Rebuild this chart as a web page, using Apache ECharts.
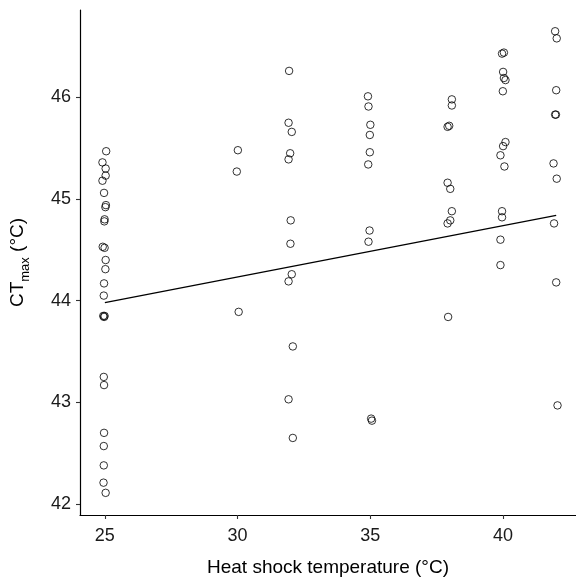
<!DOCTYPE html>
<html>
<head>
<meta charset="utf-8">
<script src="https://cdn.jsdelivr.net/npm/echarts@6/dist/echarts.min.js"></script>
<style>
html,body{margin:0;padding:0;background:#fff;}
#chart{width:576px;height:582px;}
</style>
</head>
<body>
<div id="chart"></div>
<script>
// Heat shock temperature (x) and CTmax (y) per group
const x25 = [25.05,24.91,25.03,25.03,24.91,24.97,25.04,25.02,24.99,24.98,24.92,24.99,25.03,25.02,24.97,24.96,24.94,24.97,24.99,24.96,24.97,24.97,24.96,24.96,24.95,25.03];
const y25 = [45.47,45.36,45.30,45.23,45.18,45.06,44.94,44.92,44.80,44.78,44.53,44.52,44.40,44.31,44.17,44.05,43.85,43.84,43.85,43.25,43.17,42.70,42.57,42.38,42.21,42.11];
const x30 = [30.01,29.97,30.04];
const y30 = [45.48,45.27,43.89];
const x32 = [31.94,31.92,32.04,31.98,31.92,32.00,31.99,32.04,31.92,32.08,31.92,32.08];
const y32 = [46.26,45.75,45.66,45.45,45.39,44.79,44.56,44.26,44.19,43.55,43.03,42.65];
const x35 = [34.91,34.93,35.00,34.98,34.98,34.92,34.97,34.93,35.03,35.06];
const y35 = [46.01,45.91,45.73,45.63,45.46,45.34,44.69,44.58,42.84,42.82];
const x38 = [38.07,38.07,37.97,37.91,37.91,38.01,38.07,38.01,37.91,37.93];
const y38 = [45.98,45.92,45.72,45.71,45.16,45.10,44.88,44.79,44.76,43.84];
const x40 = [40.03,39.96,40.00,40.03,40.09,39.99,40.09,40.00,39.90,40.05,39.96,39.96,39.90,39.90];
const y40 = [46.44,46.43,46.25,46.19,46.17,46.06,45.56,45.52,45.43,45.32,44.88,44.82,44.60,44.35];
const x42 = [41.96,42.02,42.00,41.96,41.99,41.90,42.02,41.92,42.00,42.05];
const y42 = [46.65,46.58,46.07,45.83,45.83,45.35,45.20,44.76,44.18,42.97];
// fitted trend line
const fitX = [25, 42];
const fitY = [43.98, 44.84];
// tick labels
const xTicks = [25, 30, 35, 40];
const yTicks = [42, 43, 44, 45, 46];

const groupsX = [x25, x30, x32, x35, x38, x40, x42];
const groupsY = [y25, y30, y32, y35, y38, y40, y42];
const points = [];
groupsX.forEach((gx, gi) => gx.forEach((v, i) => points.push([v, groupsY[gi][i]])));
const fitLine = fitX.map((v, i) => [v, fitY[i]]);

const font = "'Liberation Sans', Arial, sans-serif";
const chart = echarts.init(document.getElementById('chart'), null, {renderer: 'canvas'});
chart.setOption({
  animation: false,
  backgroundColor: '#fff',
  grid: {left: 77, right: 0, top: 10, bottom: 61.5},
  xAxis: {
    type: 'value', min: 24.064, max: 42.746,
    axisLine: {show: true, onZero: false, lineStyle: {color: '#000', width: 1.2}},
    axisTick: {show: true, length: 4, customValues: xTicks, lineStyle: {color: '#333', width: 1.1}},
    axisLabel: {customValues: xTicks, fontSize: 18, color: '#1a1a1a', margin: 12, fontFamily: font},
    splitLine: {show: false},
    name: 'Heat shock temperature (°C)', nameLocation: 'middle', nameGap: 43,
    nameTextStyle: {fontSize: 19, color: '#000', fontFamily: font}
  },
  yAxis: {
    type: 'value', min: 41.892, max: 46.859,
    axisLine: {show: true, onZero: false, lineStyle: {color: '#000', width: 1.2}},
    axisTick: {show: true, length: 4, customValues: yTicks, lineStyle: {color: '#333', width: 1.1}},
    axisLabel: {customValues: yTicks, fontSize: 18, color: '#1a1a1a', margin: 9, fontFamily: font},
    splitLine: {show: false},
    name: '{m|CT}{s|max}{m| (°C)}', nameLocation: 'middle', nameGap: 48,
    nameTextStyle: {
      fontSize: 19, color: '#000', fontFamily: font,
      rich: {
        m: {fontSize: 19, color: '#000', fontFamily: font, lineHeight: 24, verticalAlign: 'top'},
        s: {fontSize: 13, color: '#000', fontFamily: font, lineHeight: 13, verticalAlign: 'bottom'}
      }
    }
  },
  series: [
    {
      type: 'scatter', data: points, symbol: 'circle', symbolSize: 7.5, silent: true,
      itemStyle: {color: 'rgba(0,0,0,0)', borderColor: '#000', borderWidth: 1}
    },
    {
      type: 'line', data: fitLine, showSymbol: false, symbol: 'none', silent: true,
      lineStyle: {color: '#000', width: 1.3}
    }
  ]
});
</script>
</body>
</html>
